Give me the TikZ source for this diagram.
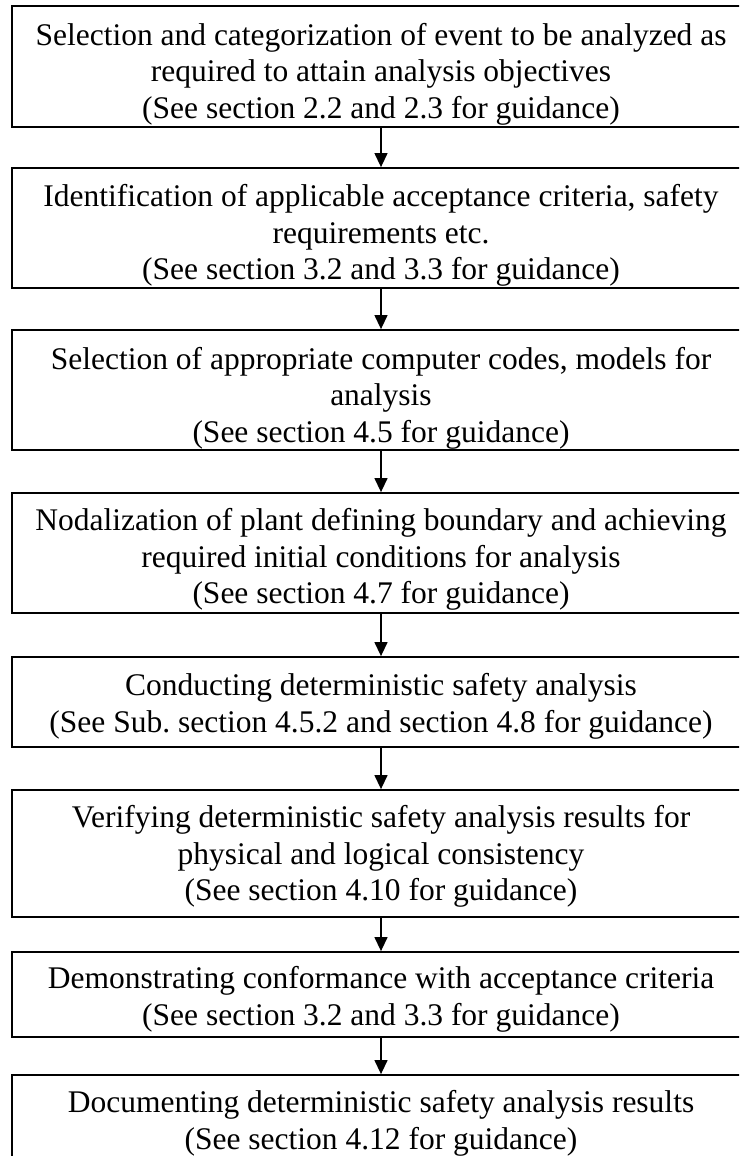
\documentclass[tikz,border=0pt]{standalone}
\usepackage{fontspec}
\setmainfont{Liberation Serif}
\usetikzlibrary{arrows.meta}
\frenchspacing
\begin{document}
\begin{tikzpicture}[x=1pt,y=1pt,
  box/.style={draw=black, line width=1.8pt, minimum width=738pt, inner sep=0pt},
  txt/.style={align=center, inner sep=0pt, font=\fontsize{31.5}{36.5}\selectfont},
  flow/.style={line width=1.3pt, -{Triangle[length=14pt,width=13pt]}}]
\useasboundingbox (0,0) rectangle (739,-1156);
\clip (0,0) rectangle (739,-1156);
\fill[white] (0,0) rectangle (739,-1156);
\node[box, minimum height=121pt] (b1) at (381,-66.5) {};
\node[box, minimum height=120pt] (b2) at (381,-228) {};
\node[box, minimum height=120pt] (b3) at (381,-390) {};
\node[box, minimum height=120pt] (b4) at (381,-553) {};
\node[box, minimum height=90pt]  (b5) at (381,-702) {};
\node[box, minimum height=127pt] (b6) at (381,-853.5) {};
\node[box, minimum height=85pt]  (b7) at (381,-994.5) {};
\node[box, minimum height=89pt]  (b8) at (381,-1119.5) {};
\node[txt] (t1) at (381,-74) {Selection and categorization of event to be analyzed as\\required to attain analysis objectives\\(See section 2.2 and 2.3 for guidance)};
\node[txt] (t2) at (381,-235.5) {Identification of applicable acceptance criteria, safety\\requirements etc.\\(See section 3.2 and 3.3 for guidance)};
\node[txt] (t3) at (381,-398) {Selection of appropriate computer codes, models for\\analysis\\(See section 4.5 for guidance)};
\node[txt] (t4) at (381,-559.5) {Nodalization of plant defining boundary and achieving\\required initial conditions for analysis\\(See section 4.7 for guidance)};
\node[txt] (t5) at (381,-706.5) {Conducting deterministic safety analysis\\(See Sub. section 4.5.2 and section 4.8 for guidance)};
\node[txt] (t6) at (381,-856.5) {Verifying deterministic safety analysis results for\\physical and logical consistency\\(See section 4.10 for guidance)};
\node[txt] (t7) at (381,-999.5) {Demonstrating conformance with acceptance criteria\\(See section 3.2 and 3.3 for guidance)};
\node[txt] (t8) at (381,-1123.5) {Documenting deterministic safety analysis results\\(See section 4.12 for guidance)};
\draw[flow] (b1) -- (b2);
\draw[flow] (b2) -- (b3);
\draw[flow] (b3) -- (b4);
\draw[flow] (b4) -- (b5);
\draw[flow] (b5) -- (b6);
\draw[flow] (b6) -- (b7);
\draw[flow] (b7) -- (b8);
\end{tikzpicture}
\end{document}
